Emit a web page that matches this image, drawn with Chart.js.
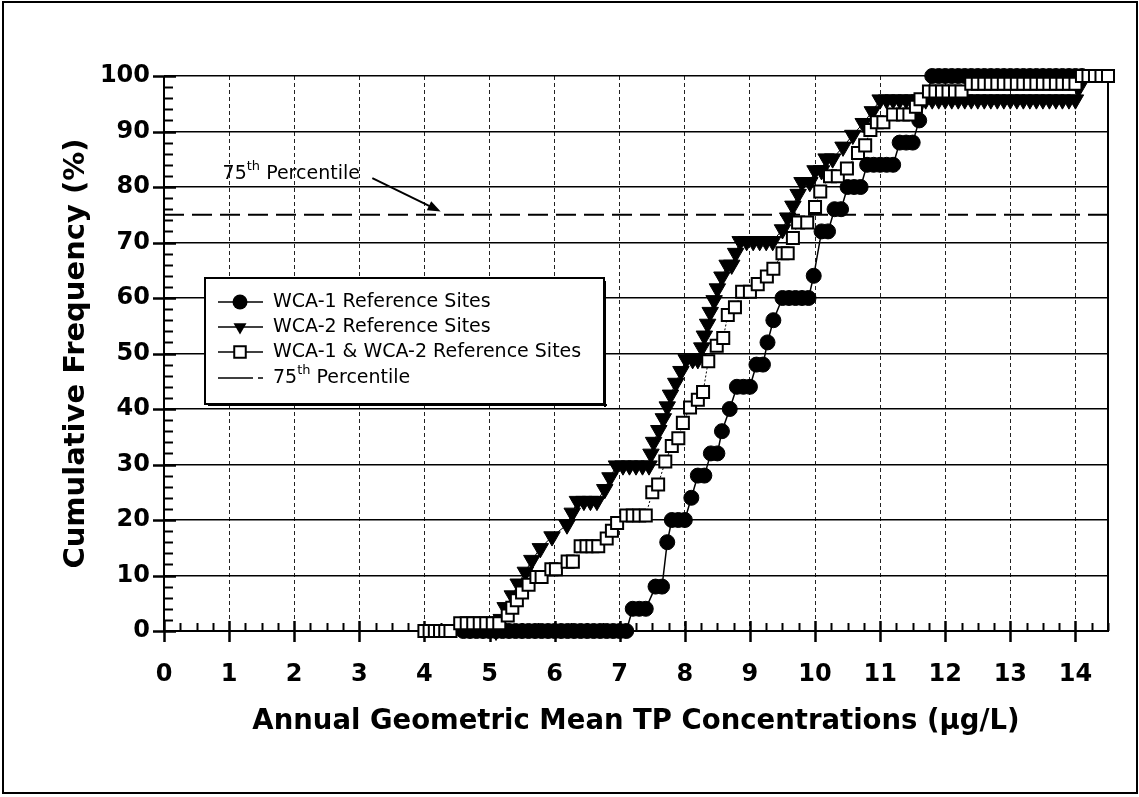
<!DOCTYPE html>
<html>
<head>
<meta charset="utf-8">
<title>Cumulative frequency of annual geometric mean TP</title>
<script src="https://cdn.jsdelivr.net/npm/chart.js@4.4.1/dist/chart.umd.min.js"></script>
<style>
  html, body { margin: 0; padding: 0; background: #fff; }
  #wrap { width: 1139px; height: 797px; }
</style>
</head>
<body>
<div id="wrap"><canvas id="cdf" width="1139" height="797"></canvas></div>
<script>
// [TP concentration (ug/L), cumulative frequency (%)]
const wca1Points = [
  [4.6, 0], [4.7, 0], [4.8, 0], [4.9, 0], [5.0, 0], [5.1, 0], [5.2, 0], [5.3, 0], [5.4, 0],
  [5.5, 0], [5.6, 0], [5.7, 0], [5.8, 0], [5.9, 0], [6.0, 0], [6.1, 0], [6.2, 0], [6.3, 0],
  [6.4, 0], [6.5, 0], [6.6, 0], [6.7, 0], [6.8, 0], [6.9, 0], [7.0, 0], [7.1, 0],
  [7.2, 4], [7.3, 4], [7.4, 4], [7.55, 8], [7.65, 8], [7.73, 16],
  [7.8, 20], [7.9, 20], [8.0, 20], [8.1, 24], [8.2, 28], [8.3, 28], [8.4, 32], [8.5, 32],
  [8.57, 36], [8.69, 40], [8.8, 44], [8.9, 44], [9.0, 44], [9.1, 48], [9.2, 48],
  [9.27, 52], [9.36, 56], [9.5, 60], [9.6, 60], [9.7, 60], [9.8, 60], [9.9, 60], [9.98, 64],
  [10.1, 72], [10.2, 72], [10.3, 76], [10.4, 76], [10.5, 80], [10.6, 80], [10.7, 80],
  [10.8, 84], [10.9, 84], [11.0, 84], [11.1, 84], [11.2, 84], [11.3, 88], [11.4, 88], [11.5, 88],
  [11.6, 92], [11.8, 100], [11.9, 100], [12.0, 100], [12.1, 100], [12.2, 100], [12.3, 100],
  [12.4, 100], [12.5, 100], [12.6, 100], [12.7, 100], [12.8, 100], [12.9, 100], [13.0, 100],
  [13.1, 100], [13.2, 100], [13.3, 100], [13.4, 100], [13.5, 100], [13.6, 100], [13.7, 100],
  [13.8, 100], [13.9, 100], [14.0, 100], [14.1, 100]
];

const wca2Points = [
  [5.1, 0], [5.18, 2.13], [5.24, 4.26], [5.35, 6.38], [5.44, 8.51], [5.55, 10.64], [5.65, 12.77],
  [5.78, 14.89], [5.96, 17.02], [6.19, 19.15], [6.27, 21.28],
  [6.35, 23.4], [6.45, 23.4], [6.55, 23.4], [6.65, 23.4], [6.77, 25.53], [6.85, 27.66],
  [6.95, 29.79], [7.05, 29.79], [7.15, 29.79], [7.25, 29.79], [7.35, 29.79], [7.45, 29.79],
  [7.48, 31.91], [7.52, 34.04], [7.6, 36.17], [7.67, 38.3], [7.73, 40.43], [7.78, 42.55],
  [7.86, 44.68], [7.94, 46.81], [8.02, 48.94], [8.12, 48.94], [8.2, 48.94], [8.26, 51.06],
  [8.3, 53.19], [8.35, 55.32], [8.39, 57.45], [8.45, 59.57], [8.5, 61.7], [8.57, 63.83],
  [8.65, 65.96], [8.72, 65.96], [8.78, 68.09],
  [8.85, 70.21], [8.95, 70.21], [9.05, 70.21], [9.15, 70.21], [9.25, 70.21], [9.35, 70.21],
  [9.5, 72.34], [9.58, 74.47], [9.66, 76.6], [9.74, 78.72], [9.8, 80.85], [9.92, 80.85],
  [10.0, 82.98], [10.1, 82.98], [10.17, 85.11], [10.27, 85.11], [10.43, 87.23], [10.58, 89.36],
  [10.74, 91.49], [10.88, 93.62],
  [11.0, 95.74], [11.1, 95.74], [11.2, 95.74], [11.3, 95.74], [11.4, 95.74], [11.5, 95.74],
  [11.6, 95.74], [11.7, 95.74], [11.8, 95.74], [11.9, 95.74], [12.0, 95.74], [12.1, 95.74],
  [12.2, 95.74], [12.3, 95.74], [12.4, 95.74], [12.5, 95.74], [12.6, 95.74], [12.7, 95.74],
  [12.8, 95.74], [12.9, 95.74], [13.0, 95.74], [13.1, 95.74], [13.2, 95.74], [13.3, 95.74],
  [13.4, 95.74], [13.5, 95.74], [13.6, 95.74], [13.7, 95.74], [13.8, 95.74], [13.9, 95.74],
  [14.0, 95.74], [14.05, 97.87], [14.1, 100]
];

const bothPoints = [
  [4.0, 0], [4.08, 0], [4.16, 0], [4.24, 0], [4.32, 0], [4.4, 0],
  [4.55, 1.39], [4.65, 1.39], [4.75, 1.39], [4.85, 1.39], [4.95, 1.39], [5.05, 1.39], [5.15, 1.39],
  [5.28, 2.78], [5.35, 4.17], [5.42, 5.56], [5.5, 6.94], [5.6, 8.33], [5.72, 9.72], [5.8, 9.72],
  [5.95, 11.11], [6.02, 11.11], [6.2, 12.5], [6.28, 12.5],
  [6.4, 15.28], [6.49, 15.28], [6.58, 15.28], [6.67, 15.28], [6.8, 16.67], [6.88, 18.06], [6.96, 19.44],
  [7.1, 20.83], [7.2, 20.83], [7.3, 20.83], [7.4, 20.83], [7.5, 25], [7.59, 26.39], [7.7, 30.56],
  [7.8, 33.33], [7.9, 34.72], [7.97, 37.5], [8.08, 40.28], [8.2, 41.67], [8.28, 43.06],
  [8.36, 48.61], [8.49, 51.39], [8.59, 52.78], [8.66, 56.94], [8.77, 58.33], [8.88, 61.11],
  [9.0, 61.11], [9.12, 62.5], [9.26, 63.89], [9.36, 65.28], [9.5, 68.06], [9.58, 68.06],
  [9.66, 70.83], [9.74, 73.61], [9.88, 73.61], [10.0, 76.39], [10.08, 79.17], [10.23, 81.94],
  [10.35, 81.94], [10.49, 83.33], [10.66, 86.11], [10.77, 87.5], [10.85, 90.28], [10.95, 91.67],
  [11.05, 91.67], [11.2, 93.06], [11.35, 93.06], [11.45, 93.06], [11.55, 94.44], [11.62, 95.83],
  [11.75, 97.22], [11.85, 97.22], [11.95, 97.22], [12.05, 97.22], [12.15, 97.22], [12.25, 97.22],
  [12.4, 98.61], [12.5, 98.61], [12.6, 98.61], [12.7, 98.61], [12.8, 98.61], [12.9, 98.61],
  [13.0, 98.61], [13.1, 98.61], [13.2, 98.61], [13.3, 98.61], [13.4, 98.61], [13.5, 98.61],
  [13.6, 98.61], [13.7, 98.61], [13.8, 98.61], [13.9, 98.61], [14.0, 98.61],
  [14.1, 100], [14.2, 100], [14.3, 100], [14.4, 100], [14.5, 100]
];

const percentileLine = [[0, 75], [14.5, 75]];

const seriesLabels = [
  "WCA-1 Reference Sites",
  "WCA-2 Reference Sites",
  "WCA-1 & WCA-2 Reference Sites",
  "75th Percentile"
];

const xTitle = "Annual Geometric Mean TP Concentrations (\u00b5g/L)";
const yTitle = "Cumulative Frequency (%)";

const FONT = "'DejaVu Sans', 'Liberation Sans', sans-serif";
Chart.defaults.font.family = FONT;
Chart.defaults.color = "#000";

const toXY = (pts) => pts.map((p) => ({ x: p[0], y: p[1] }));

// draw a marker like the chart's own, used by the hand drawn legend
function marker(ctx, style, x, y, r) {
  ctx.beginPath();
  if (style === "circle") {
    ctx.arc(x, y, r, 0, Math.PI * 2);
    ctx.fillStyle = "#000";
    ctx.fill();
  } else if (style === "triangle") {
    ctx.moveTo(x - r * 0.87, y - r * 0.5);
    ctx.lineTo(x + r * 0.87, y - r * 0.5);
    ctx.lineTo(x, y + r);
    ctx.closePath();
    ctx.fillStyle = "#000";
    ctx.fill();
  } else if (style === "rect") {
    const s = r * 0.72;
    ctx.rect(x - s, y - s, s * 2, s * 2);
    ctx.fillStyle = "#fff";
    ctx.fill();
    ctx.lineWidth = 2;
    ctx.strokeStyle = "#000";
    ctx.stroke();
  }
}

// text with a small raised "th"
function ordinalText(ctx, x, y, size, pre, sup, post) {
  ctx.font = size + "px " + FONT;
  ctx.fillText(pre, x, y);
  let cx = x + ctx.measureText(pre).width;
  ctx.font = Math.round(size * 0.68) + "px " + FONT;
  ctx.fillText(sup, cx, y - size * 0.38);
  cx += ctx.measureText(sup).width;
  ctx.font = size + "px " + FONT;
  ctx.fillText(post, cx, y);
}

const decorations = {
  id: "decorations",
  beforeDatasetsDraw(chart) {
    const { ctx, chartArea: a, scales: { x, y } } = chart;
    ctx.save();
    ctx.strokeStyle = "#000";
    ctx.lineWidth = 2;
    ctx.beginPath();
    ctx.moveTo(a.left, a.top);
    ctx.lineTo(a.left, a.bottom);
    ctx.lineTo(a.right, a.bottom);
    ctx.lineTo(a.right, a.top);
    ctx.stroke();
    // x ticks: majors cross the axis, minors every 0.25 inside
    for (let v = 0; v <= x.max; v += 0.25) {
      const px = Math.round(x.getPixelForValue(v)) + 0.5;
      const major = v % 1 === 0;
      ctx.lineWidth = major ? 2.5 : 2;
      ctx.beginPath();
      ctx.moveTo(px, a.bottom - (major ? 10 : 8));
      ctx.lineTo(px, a.bottom + (major ? 11 : 0));
      ctx.stroke();
    }
    // y ticks: majors every 10, minors every 2
    for (let v = 0; v <= y.max; v += 2) {
      const py = Math.round(y.getPixelForValue(v)) + 0.5;
      const major = v % 10 === 0;
      ctx.lineWidth = major ? 2.5 : 2;
      ctx.beginPath();
      ctx.moveTo(a.left - (major ? 11 : 0), py);
      ctx.lineTo(a.left + (major ? 12 : 9), py);
      ctx.stroke();
    }
    ctx.restore();
  },
  afterDatasetsDraw(chart) {
    const { ctx, scales: { x, y } } = chart;
    const ds = chart.data.datasets;
    ctx.save();

    // legend box
    const L = 205, T = 278, W = 399, H = 126;
    ctx.fillStyle = "#fff";
    ctx.fillRect(L, T, W, H);
    ctx.strokeStyle = "#000";
    ctx.lineWidth = 2;
    ctx.strokeRect(L, T, W, H);
    ctx.fillStyle = "#000";
    ctx.fillRect(L + 3, T + H, W, 2);
    ctx.fillRect(L + W, T + 3, 2, H);

    const rows = [T + 24, T + 49, T + 74, T + 100];
    ds.forEach((d, i) => {
      const ry = rows[i];
      ctx.save();
      ctx.strokeStyle = "#000";
      ctx.lineWidth = 1.5;
      ctx.setLineDash(i === 3 ? [35, 5, 5, 100] : []);
      ctx.beginPath();
      ctx.moveTo(218, ry);
      ctx.lineTo(263, ry);
      ctx.stroke();
      ctx.restore();
      if (i < 3) marker(ctx, d.pointStyle, 240, ry, i === 2 ? 8 : 7.5);
      ctx.fillStyle = "#000";
      ctx.textBaseline = "middle";
      ctx.textAlign = "left";
      if (i === 3) {
        ordinalText(ctx, 273, ry, 19, "75", "th", " Percentile");
      } else {
        ctx.font = "19px " + FONT;
        ctx.fillText(d.label, 273, ry);
      }
    });

    // "75th Percentile" note with arrow to the dashed line
    ctx.fillStyle = "#000";
    ctx.textBaseline = "middle";
    ordinalText(ctx, x.getPixelForValue(0.9), y.getPixelForValue(82.3), 19, "75", "th", " Percentile");
    const x0 = x.getPixelForValue(3.2), y0 = y.getPixelForValue(81.6);
    const x1 = x.getPixelForValue(4.25), y1 = y.getPixelForValue(75.6);
    const ang = Math.atan2(y1 - y0, x1 - x0);
    ctx.strokeStyle = "#000";
    ctx.lineWidth = 2;
    ctx.beginPath();
    ctx.moveTo(x0, y0);
    ctx.lineTo(x1 - 10 * Math.cos(ang), y1 - 10 * Math.sin(ang));
    ctx.stroke();
    ctx.beginPath();
    ctx.moveTo(x1, y1);
    ctx.lineTo(x1 - 13 * Math.cos(ang) + 5 * Math.sin(ang), y1 - 13 * Math.sin(ang) - 5 * Math.cos(ang));
    ctx.lineTo(x1 - 13 * Math.cos(ang) - 5 * Math.sin(ang), y1 - 13 * Math.sin(ang) + 5 * Math.cos(ang));
    ctx.closePath();
    ctx.fill();
    ctx.restore();
  },
  afterDraw(chart) {
    const { ctx, width, height } = chart;
    ctx.save();
    ctx.strokeStyle = "#000";
    ctx.lineWidth = 2;
    ctx.strokeRect(3, 2, width - 5, height - 6);
    ctx.restore();
  }
};

new Chart(document.getElementById("cdf"), {
  type: "scatter",
  data: {
    datasets: [
      {
        label: seriesLabels[0],
        data: toXY(wca1Points),
        showLine: true,
        borderColor: "#000",
        borderWidth: 1.5,
        pointStyle: "circle",
        pointRadius: 7.5,
        pointBackgroundColor: "#000",
        pointBorderColor: "#000",
        pointBorderWidth: 1,
        clip: false,
        order: 2
      },
      {
        label: seriesLabels[1],
        data: toXY(wca2Points),
        showLine: true,
        borderColor: "#000",
        borderWidth: 1,
        pointStyle: "triangle",
        pointRotation: 180,
        pointRadius: 9.5,
        pointBackgroundColor: "#000",
        pointBorderColor: "#000",
        pointBorderWidth: 1,
        clip: false,
        order: 1
      },
      {
        label: seriesLabels[2],
        data: toXY(bothPoints),
        showLine: true,
        borderColor: "#000",
        borderWidth: 1,
        borderDash: [2, 2],
        pointStyle: "rect",
        pointRadius: 8.5,
        pointBackgroundColor: "#fff",
        pointBorderColor: "#000",
        pointBorderWidth: 2,
        clip: false,
        order: 0
      },
      {
        label: seriesLabels[3],
        data: toXY(percentileLine),
        showLine: true,
        borderColor: "#000",
        borderWidth: 2,
        borderDash: [20, 8],
        pointRadius: 0,
        order: 3
      }
    ]
  },
  options: {
    responsive: false,
    animation: false,
    layout: { padding: { top: 76, right: 31, left: 0, bottom: 0 } },
    plugins: {
      legend: { display: false },
      tooltip: { enabled: false }
    },
    scales: {
      x: {
        type: "linear",
        min: 0,
        max: 14.5,
        afterFit: (s) => { s.height = 166; },
        ticks: {
          stepSize: 1,
          includeBounds: false,
          padding: 29,
          font: { size: 24, weight: "bold" },
          color: "#000"
        },
        grid: { color: "#222", lineWidth: 1, drawTicks: false },
        border: { display: false, dash: [4, 3] },
        title: {
          display: true,
          text: xTitle,
          color: "#000",
          font: { size: 27.5, weight: "bold" },
          padding: { top: 0, bottom: 59 }
        }
      },
      y: {
        type: "linear",
        min: 0,
        max: 100,
        afterFit: (s) => { s.width = 164; },
        ticks: {
          stepSize: 10,
          padding: 14,
          font: { size: 24, weight: "bold" },
          color: "#000"
        },
        grid: { color: "#000", lineWidth: 1.5, drawTicks: false },
        border: { display: false },
        title: {
          display: true,
          text: yTitle,
          color: "#000",
          font: { size: 29, weight: "bold" },
          padding: { top: 59, bottom: 0 }
        }
      }
    }
  },
  plugins: [decorations]
});
</script>
</body>
</html>
